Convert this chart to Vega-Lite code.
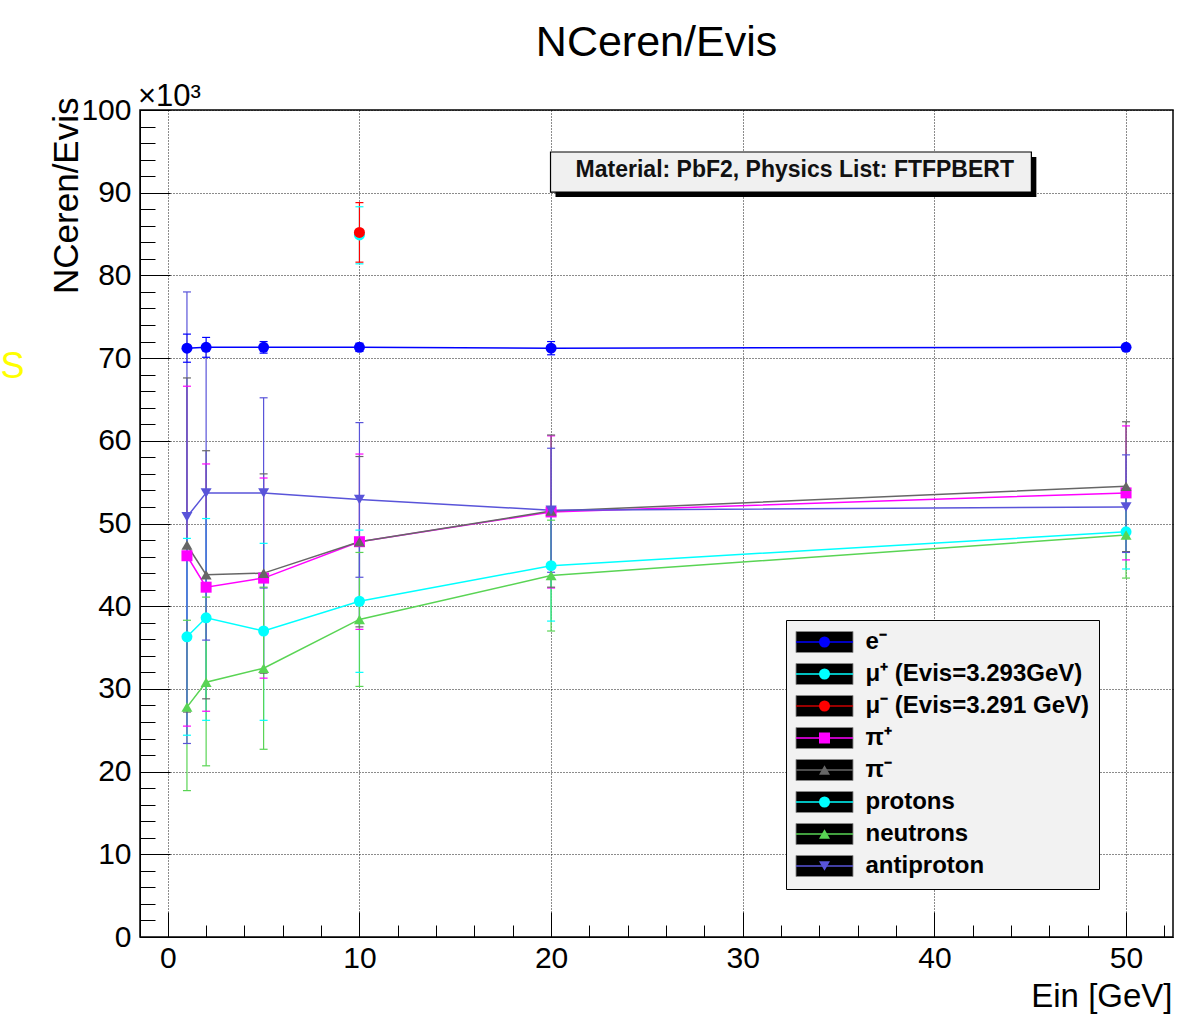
{
  "$schema": "https://vega.github.io/schema/vega-lite/v6.json",
  "width": 1033,
  "height": 827,
  "autosize": "none",
  "padding": {"left": 140, "top": 110, "right": 6, "bottom": 99},
  "background": "white",
  "title": {"text": "NCeren/Evis", "fontSize": 43, "font": "Liberation Sans", "fontWeight": "normal", "color": "black", "anchor": "middle", "frame": "group", "offset": 22, "dy": 40, "baseline": "alphabetic"},
  "config": {"font": "Liberation Sans", "view": {"stroke": "black", "strokeWidth": 1.5}},
  "datasets": {
    "d": [
      {"p": "e⁻", "E": 1, "v": 71.2, "lo": 69.5, "hi": 72.9},
      {"p": "e⁻", "E": 2, "v": 71.3, "lo": 70.1, "hi": 72.5},
      {"p": "e⁻", "E": 5, "v": 71.3, "lo": 70.6, "hi": 72.0},
      {"p": "e⁻", "E": 10, "v": 71.3, "lo": 70.8, "hi": 71.8},
      {"p": "e⁻", "E": 20, "v": 71.2, "lo": 70.4, "hi": 72.0},
      {"p": "e⁻", "E": 50, "v": 71.3, "lo": 71.0, "hi": 71.6},
      {"p": "μ⁺ (Evis=3.293GeV)", "E": 10, "v": 84.9, "lo": 81.4, "hi": 88.3},
      {"p": "μ⁻ (Evis=3.291 GeV)", "E": 10, "v": 85.2, "lo": 81.6, "hi": 88.8},
      {"p": "π⁺", "E": 1, "v": 46.1, "lo": 25.5, "hi": 66.6},
      {"p": "π⁺", "E": 2, "v": 42.3, "lo": 27.3, "hi": 57.2},
      {"p": "π⁺", "E": 5, "v": 43.4, "lo": 31.3, "hi": 55.5},
      {"p": "π⁺", "E": 10, "v": 47.8, "lo": 37.2, "hi": 58.4},
      {"p": "π⁺", "E": 20, "v": 51.4, "lo": 42.2, "hi": 60.6},
      {"p": "π⁺", "E": 50, "v": 53.7, "lo": 45.6, "hi": 61.8},
      {"p": "π⁻", "E": 1, "v": 47.4, "lo": 27.2, "hi": 67.6},
      {"p": "π⁻", "E": 2, "v": 43.8, "lo": 28.8, "hi": 58.8},
      {"p": "π⁻", "E": 5, "v": 44.0, "lo": 31.9, "hi": 56.0},
      {"p": "π⁻", "E": 10, "v": 47.8, "lo": 37.5, "hi": 58.1},
      {"p": "π⁻", "E": 20, "v": 51.5, "lo": 42.3, "hi": 60.7},
      {"p": "π⁻", "E": 50, "v": 54.5, "lo": 46.6, "hi": 62.3},
      {"p": "protons", "E": 1, "v": 36.3, "lo": 24.4, "hi": 48.2},
      {"p": "protons", "E": 2, "v": 38.6, "lo": 26.2, "hi": 50.6},
      {"p": "protons", "E": 5, "v": 37.0, "lo": 26.2, "hi": 47.6},
      {"p": "protons", "E": 10, "v": 40.6, "lo": 32.0, "hi": 49.2},
      {"p": "protons", "E": 20, "v": 44.9, "lo": 38.2, "hi": 51.6},
      {"p": "protons", "E": 50, "v": 49.0, "lo": 44.5, "hi": 53.5},
      {"p": "neutrons", "E": 1, "v": 27.8, "lo": 17.7, "hi": 38.3},
      {"p": "neutrons", "E": 2, "v": 30.8, "lo": 20.7, "hi": 41.1},
      {"p": "neutrons", "E": 5, "v": 32.5, "lo": 22.7, "hi": 42.3},
      {"p": "neutrons", "E": 10, "v": 38.4, "lo": 30.3, "hi": 46.5},
      {"p": "neutrons", "E": 20, "v": 43.7, "lo": 37.0, "hi": 50.4},
      {"p": "neutrons", "E": 50, "v": 48.6, "lo": 43.4, "hi": 53.8},
      {"p": "antiproton", "E": 1, "v": 50.8, "lo": 23.4, "hi": 78.0},
      {"p": "antiproton", "E": 2, "v": 53.7, "lo": 35.9, "hi": 71.5},
      {"p": "antiproton", "E": 5, "v": 53.7, "lo": 42.2, "hi": 65.2},
      {"p": "antiproton", "E": 10, "v": 52.9, "lo": 43.5, "hi": 62.2},
      {"p": "antiproton", "E": 20, "v": 51.6, "lo": 44.1, "hi": 59.1},
      {"p": "antiproton", "E": 50, "v": 52.0, "lo": 46.5, "hi": 58.3}
    ]
  },
  "resolve": {"scale": {"stroke": "independent", "strokeDash": "independent", "fill": "independent", "shape": "independent"}, "axis": {"x": "independent", "y": "independent"}},
  "layer": [
    {
      "data": {"name": "d"},
      "mark": {"type": "rule", "strokeWidth": 1.2},
      "encoding": {
        "x": {"field": "E", "type": "quantitative", "scale": {"domain": [-1.45, 52.45], "nice": false, "zero": false},
              "axis": {"orient": "bottom", "values": [0, 10, 20, 30, 40, 50], "labelFontSize": 30, "labelColor": "black", "labelPadding": 6, "ticks": false, "domain": true, "domainColor": "black", "domainWidth": 1, "grid": true, "gridColor": "black", "gridDash": [1, 2], "gridWidth": 1, "gridOpacity": 0.9,
                       "title": "Ein [GeV]", "titleFontSize": 33, "titleFontWeight": "normal", "titleColor": "black", "titleAlign": "right", "titleX": 1032, "titleY": 69, "titleBaseline": "alphabetic"}},
        "y": {"field": "lo", "type": "quantitative", "scale": {"domain": [0, 100], "nice": false, "zero": false},
              "axis": {"orient": "left", "values": [0, 10, 20, 30, 40, 50, 60, 70, 80, 90, 100], "labelFontSize": 30, "labelColor": "black", "labelPadding": 9, "ticks": false, "domain": true, "domainColor": "black", "domainWidth": 1, "grid": true, "gridColor": "black", "gridDash": [1, 2], "gridWidth": 1, "gridOpacity": 0.9,
                       "title": "NCeren/Evis", "titleFontSize": 35, "titleFontWeight": "normal", "titleColor": "black", "titleAngle": 270, "titleAlign": "right", "titleBaseline": "alphabetic", "titleX": -63, "titleY": -13}},
        "y2": {"field": "hi"},
        "stroke": {"field": "p", "type": "nominal",
                   "scale": {"domain": ["antiproton", "neutrons", "protons", "π⁻", "π⁺", "μ⁻ (Evis=3.291 GeV)", "μ⁺ (Evis=3.293GeV)", "e⁻"], "range": ["#5954d9", "#59d454", "#00ffff", "#666666", "#ff00ff", "#ff0000", "#00ffff", "#0000ff"]},
                   "legend": null},
        "strokeDash": {"field": "p", "type": "nominal",
                       "scale": {"domain": ["e⁻", "μ⁺ (Evis=3.293GeV)", "μ⁻ (Evis=3.291 GeV)", "π⁺", "π⁻", "protons", "neutrons", "antiproton"], "range": [[1, 0], [1, 0], [1, 0], [1, 0], [1, 0], [1, 0], [1, 0], [1, 0]]},
                       "legend": {"orient": "none", "legendX": 646, "legendY": 510, "direction": "vertical", "title": null, "padding": 10, "rowPadding": 6,
                                  "fillColor": "#f2f2f2", "strokeColor": "black",
                                  "symbolType": "M-2.714,-1H2.714V1H-2.714Z", "symbolSize": 441, "symbolOffset": 16.5, "symbolFillColor": "black", "symbolStrokeColor": "#888888", "symbolStrokeWidth": 1,
                                  "labelFontSize": 24, "labelFontWeight": "bold", "labelColor": "black", "labelOffset": 29, "labelLimit": 400}}
      }
    },
    {
      "data": {"name": "d"},
      "mark": {"type": "point", "shape": "stroke", "size": 64, "strokeWidth": 1.2, "filled": false, "opacity": 1},
      "encoding": {
        "x": {"field": "E", "type": "quantitative", "scale": {"domain": [-1.45, 52.45], "nice": false, "zero": false},
              "axis": {"orient": "bottom", "values": [0, 10, 20, 30, 40, 50], "tickSize": -25, "ticks": true, "tickColor": "black", "tickWidth": 1, "labels": false, "domain": false, "grid": false, "title": null}},
        "y": {"field": "lo", "type": "quantitative", "scale": {"domain": [0, 100], "nice": false, "zero": false},
              "axis": {"orient": "left", "values": [0, 10, 20, 30, 40, 50, 60, 70, 80, 90, 100], "tickSize": -30, "ticks": true, "tickColor": "black", "tickWidth": 1, "labels": false, "domain": false, "grid": false, "title": null}},
        "stroke": {"field": "p", "type": "nominal",
                   "scale": {"domain": ["e⁻", "μ⁺ (Evis=3.293GeV)", "μ⁻ (Evis=3.291 GeV)", "π⁺", "π⁻", "protons", "neutrons", "antiproton"], "range": ["#0000ff", "#00ffff", "#ff0000", "#ff00ff", "#666666", "#00ffff", "#59d454", "#5954d9"]},
                   "legend": null}
      }
    },
    {
      "data": {"name": "d"},
      "mark": {"type": "point", "shape": "stroke", "size": 64, "strokeWidth": 1.2, "filled": false, "opacity": 1},
      "encoding": {
        "x": {"field": "E", "type": "quantitative", "scale": {"domain": [-1.45, 52.45], "nice": false, "zero": false},
              "axis": {"orient": "bottom", "values": [2, 4, 6, 8, 12, 14, 16, 18, 22, 24, 26, 28, 32, 34, 36, 38, 42, 44, 46, 48, 52], "tickSize": -12, "ticks": true, "tickColor": "black", "tickWidth": 1, "labels": false, "domain": false, "grid": false, "title": null}},
        "y": {"field": "hi", "type": "quantitative", "scale": {"domain": [0, 100], "nice": false, "zero": false},
              "axis": {"orient": "left", "values": [2, 4, 6, 8, 12, 14, 16, 18, 22, 24, 26, 28, 32, 34, 36, 38, 42, 44, 46, 48, 52, 54, 56, 58, 62, 64, 66, 68, 72, 74, 76, 78, 82, 84, 86, 88, 92, 94, 96, 98], "tickSize": -15, "ticks": true, "tickColor": "black", "tickWidth": 1, "labels": false, "domain": false, "grid": false, "title": null}},
        "stroke": {"field": "p", "type": "nominal",
                   "scale": {"domain": ["e⁻", "μ⁺ (Evis=3.293GeV)", "μ⁻ (Evis=3.291 GeV)", "π⁺", "π⁻", "protons", "neutrons", "antiproton"], "range": ["#0000ff", "#00ffff", "#ff0000", "#ff00ff", "#666666", "#00ffff", "#59d454", "#5954d9"]},
                   "legend": null}
      }
    },
    {
      "data": {"name": "d"},
      "mark": {"type": "line", "strokeWidth": 1.5},
      "encoding": {
        "x": {"field": "E", "type": "quantitative", "scale": {"domain": [-1.45, 52.45], "nice": false, "zero": false}, "axis": null},
        "y": {"field": "v", "type": "quantitative", "scale": {"domain": [0, 100], "nice": false, "zero": false}, "axis": null},
        "stroke": {"field": "p", "type": "nominal",
                   "scale": {"domain": ["e⁻", "μ⁺ (Evis=3.293GeV)", "μ⁻ (Evis=3.291 GeV)", "π⁺", "π⁻", "protons", "neutrons", "antiproton"], "range": ["#0000ff", "#00ffff", "#cc0000", "#ff00ff", "#666666", "#00ffff", "#59d454", "#5954d9"]},
                   "legend": {"orient": "none", "legendX": 646, "legendY": 510, "direction": "vertical", "title": null, "padding": 10, "rowPadding": 8,
                              "symbolType": "M-2.714,0H2.714", "symbolSize": 441, "symbolOffset": 16.5, "symbolStrokeWidth": 1.5,
                              "labelFontSize": 24, "labelFontWeight": "bold", "labelOpacity": 0, "labelOffset": 29, "labelLimit": 400}}
      }
    },
    {
      "data": {"name": "d"},
      "mark": {"type": "point", "filled": true, "opacity": 1, "size": 121, "strokeWidth": 0},
      "encoding": {
        "x": {"field": "E", "type": "quantitative", "scale": {"domain": [-1.45, 52.45], "nice": false, "zero": false}, "axis": null},
        "y": {"field": "v", "type": "quantitative", "scale": {"domain": [0, 100], "nice": false, "zero": false}, "axis": null},
        "fill": {"field": "p", "type": "nominal",
                 "scale": {"domain": ["e⁻", "μ⁺ (Evis=3.293GeV)", "μ⁻ (Evis=3.291 GeV)", "π⁺", "π⁻", "protons", "neutrons", "antiproton"], "range": ["#0000ff", "#00ffff", "#ff0000", "#ff00ff", "#666666", "#00ffff", "#59d454", "#5954d9"]},
                 "legend": {"orient": "none", "legendX": 646, "legendY": 510, "direction": "vertical", "title": null, "padding": 10, "rowPadding": 8,
                            "symbolSize": 121, "symbolOffset": 16.5, "symbolStrokeWidth": 0,
                            "labelFontSize": 24, "labelFontWeight": "bold", "labelOpacity": 0, "labelOffset": 29, "labelLimit": 400}},
        "shape": {"field": "p", "type": "nominal",
                  "scale": {"domain": ["e⁻", "μ⁺ (Evis=3.293GeV)", "μ⁻ (Evis=3.291 GeV)", "π⁺", "π⁻", "protons", "neutrons", "antiproton"], "range": ["circle", "circle", "circle", "square", "triangle-up", "circle", "triangle-up", "triangle-down"]},
                  "legend": {"orient": "none", "legendX": 646, "legendY": 510, "direction": "vertical", "title": null, "padding": 10, "rowPadding": 8,
                             "symbolSize": 121, "symbolOffset": 16.5, "symbolStrokeWidth": 0,
                             "labelFontSize": 24, "labelFontWeight": "bold", "labelOpacity": 0, "labelOffset": 29, "labelLimit": 400}}
      }
    },
    {
      "data": {"values": [{}]},
      "mark": {"type": "rect", "fill": "black", "clip": false},
      "encoding": {
        "x": {"datum": 20.23, "type": "quantitative", "scale": {"domain": [-1.45, 52.45], "nice": false, "zero": false}, "axis": null},
        "x2": {"datum": 45.32},
        "y": {"datum": 94.32, "type": "quantitative", "scale": {"domain": [0, 100], "nice": false, "zero": false}, "axis": null},
        "y2": {"datum": 89.48}
      }
    },
    {
      "data": {"values": [{}]},
      "mark": {"type": "rect", "fill": "#f0f0f0", "stroke": "black", "strokeWidth": 1.2, "clip": false},
      "encoding": {
        "x": {"datum": 19.97, "type": "quantitative", "scale": {"domain": [-1.45, 52.45], "nice": false, "zero": false}, "axis": null},
        "x2": {"datum": 45.06},
        "y": {"datum": 94.92, "type": "quantitative", "scale": {"domain": [0, 100], "nice": false, "zero": false}, "axis": null},
        "y2": {"datum": 90.08}
      }
    },
    {
      "data": {"values": [{}]},
      "mark": {"type": "text", "text": "Material: PbF2, Physics List: FTFPBERT", "fontSize": 23, "fontWeight": "bold", "color": "#111111", "align": "left", "baseline": "alphabetic", "clip": false},
      "encoding": {
        "x": {"datum": 21.28, "type": "quantitative", "scale": {"domain": [-1.45, 52.45], "nice": false, "zero": false}, "axis": null},
        "y": {"datum": 91.9, "type": "quantitative", "scale": {"domain": [0, 100], "nice": false, "zero": false}, "axis": null}
      }
    },
    {
      "data": {"values": [{}]},
      "mark": {"type": "text", "text": "×10³", "fontSize": 31, "color": "black", "align": "left", "baseline": "alphabetic", "dx": -2, "dy": -4, "clip": false},
      "encoding": {
        "x": {"datum": -1.45, "type": "quantitative", "scale": {"domain": [-1.45, 52.45], "nice": false, "zero": false}, "axis": null},
        "y": {"datum": 100, "type": "quantitative", "scale": {"domain": [0, 100], "nice": false, "zero": false}, "axis": null}
      }
    },
    {
      "data": {"values": [{}]},
      "mark": {"type": "text", "text": "S", "fontSize": 36, "color": "#ffff00", "align": "right", "baseline": "alphabetic", "clip": false},
      "encoding": {
        "x": {"datum": -7.48, "type": "quantitative", "scale": {"domain": [-1.45, 52.45], "nice": false, "zero": false}, "axis": null},
        "y": {"datum": 67.6, "type": "quantitative", "scale": {"domain": [0, 100], "nice": false, "zero": false}, "axis": null}
      }
    }
  ]
}
